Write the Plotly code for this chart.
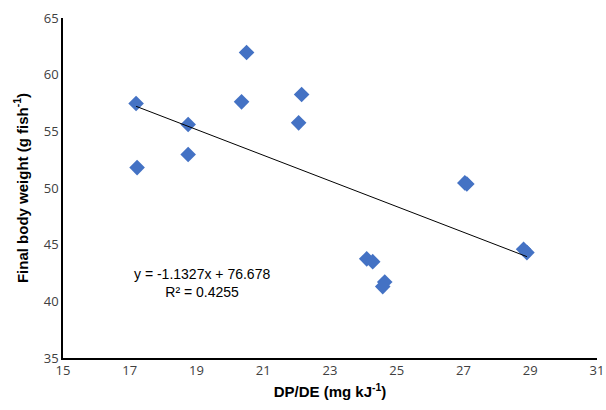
import plotly.graph_objects as go

dp_de = [17.19, 17.22, 18.75, 18.75, 20.5, 20.35, 22.15, 22.06, 24.1, 24.28, 24.64, 24.58, 27.04, 27.1, 28.8, 28.9]
final_weight = [57.45, 51.8, 55.6, 52.95, 61.95, 57.6, 58.25, 55.75, 43.75, 43.5, 41.7, 41.3, 50.45, 50.35, 44.6, 44.3]
slope = -1.1327
intercept = 76.678
trend_x = [min(dp_de), max(dp_de)]
trend_y = [slope * v + intercept for v in trend_x]
eq_text = "y = -1.1327x + 76.678<br>R² = 0.4255"

fig = go.Figure()
fig.add_trace(go.Scatter(x=dp_de, y=final_weight, mode="markers",
                         marker=dict(symbol="diamond", size=12, color="#4472C4"),
                         showlegend=False))
fig.add_trace(go.Scatter(x=trend_x, y=trend_y, mode="lines",
                         line=dict(color="black", width=1), showlegend=False))
fig.add_annotation(x=19.15, y=41.65, text=eq_text, showarrow=False,
                   font=dict(family="Arial", size=14, color="black"), align="center")

tick_font = dict(family="Open Sans", size=13, color="#404040")
fig.update_layout(
    width=606, height=410,
    margin=dict(l=63, r=9, t=18, b=52),
    plot_bgcolor="white", paper_bgcolor="white",
    xaxis=dict(range=[15, 31], tickvals=list(range(15, 32, 2)), showgrid=False, zeroline=False,
               showline=True, linecolor="black", linewidth=1.5, ticks="", tickfont=tick_font,
               automargin=False, ticklabeloverflow="allow",
               title=dict(text="<b>DP/DE (mg kJ<sup>-1</sup>)</b>", font=dict(family="Arial", size=15, color="black"), standoff=8)),
    yaxis=dict(range=[35, 65], tickvals=list(range(35, 66, 5)), showgrid=False, zeroline=False,
               showline=True, linecolor="black", linewidth=1.5, ticks="", tickfont=tick_font,
               automargin=False, ticklabeloverflow="allow",
               title=dict(text="<b>Final body weight (g fish<sup>-1</sup>)</b>", font=dict(family="Arial", size=15, color="black"), standoff=12)),
)
fig.write_html("out.html", config={"displayModeBar": False},
               post_script="document.body.style.margin='0';document.body.style.overflow='hidden';")
